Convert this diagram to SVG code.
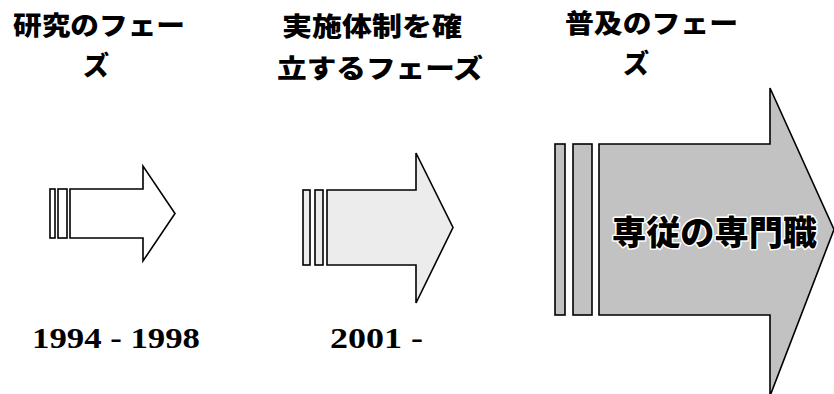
<svg xmlns="http://www.w3.org/2000/svg" width="834" height="394" viewBox="0 0 834 394">
  <style>
    .head { font-family: "Noto Sans CJK JP", "Noto Sans CJK SC", sans-serif; font-weight: 900; font-size: 26px; fill: #000; }
    .year { font-family: "Liberation Serif", "Times New Roman", serif; font-weight: bold; font-size: 30px; fill: #000; }
    .big { font-family: "Noto Sans CJK JP", "Noto Sans CJK SC", sans-serif; font-weight: 900; font-size: 34px; fill: #000; stroke: #fff; stroke-width: 3px; paint-order: stroke; stroke-linejoin: round; }
    .shape { stroke: #000; stroke-width: 1.6; stroke-linejoin: miter; }
    .a1 { fill: #fff; }
    .a2 { fill: #ececec; }
    .a3 { fill: #c2c2c2; }
  </style>
  <rect width="834" height="394" fill="#fff"/>

  <g id="phase1">
    <text class="head" x="13" y="35" textLength="172" lengthAdjust="spacingAndGlyphs">研究のフェー</text>
    <text class="head" x="96" y="75" text-anchor="middle">ズ</text>
    <rect class="shape a1" x="50" y="189" width="5" height="49"/>
    <rect class="shape a1" x="58" y="189" width="9" height="49"/>
    <polygon class="shape a1" points="70,189 143,189 143,166 175,213.5 143,261 143,238 70,238"/>
    <text class="year" x="32" y="348" textLength="168" lengthAdjust="spacingAndGlyphs">1994 - 1998</text>
  </g>

  <g id="phase2">
    <text class="head" x="282" y="36" textLength="180" lengthAdjust="spacingAndGlyphs">実施体制を確</text>
    <text class="head" x="277" y="78" textLength="206" lengthAdjust="spacingAndGlyphs">立するフェーズ</text>
    <rect class="shape a2" x="303" y="190" width="7" height="75"/>
    <rect class="shape a2" x="315" y="190" width="8" height="75"/>
    <polygon class="shape a2" points="327,190 416,190 416,153 453,227.5 416,303 416,265 327,265"/>
    <text class="year" x="330" y="348" textLength="93" lengthAdjust="spacingAndGlyphs">2001 -</text>
  </g>

  <g id="phase3">
    <text class="head" x="565" y="33" textLength="173" lengthAdjust="spacingAndGlyphs">普及のフェー</text>
    <text class="head" x="636" y="73" text-anchor="middle">ズ</text>
    <rect class="shape a3" x="555" y="144" width="10" height="171"/>
    <rect class="shape a3" x="573" y="144" width="19" height="171"/>
    <polygon class="shape a3" points="599,144 770,144 770,88 834,229.5 770,396 770,315 599,315"/>
    <text class="big" x="612" y="245" textLength="205" lengthAdjust="spacingAndGlyphs">専従の専門職</text>
  </g>

  <g id="connectors"></g>
</svg>
